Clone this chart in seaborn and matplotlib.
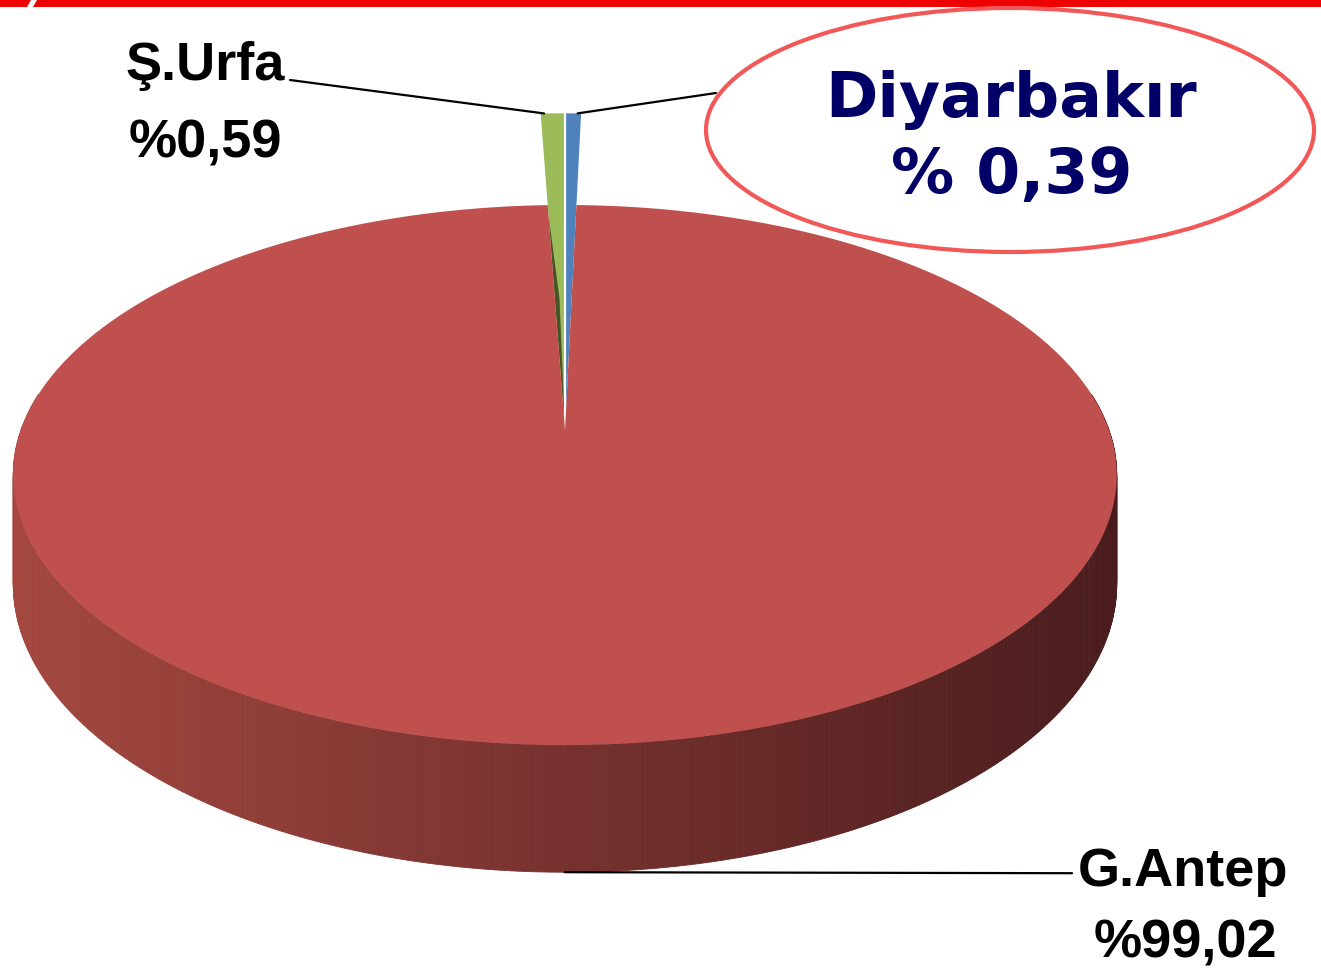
import numpy as np
import matplotlib
matplotlib.use("Agg")
import matplotlib.pyplot as plt
from matplotlib.patches import Polygon, Ellipse
from matplotlib.colors import to_rgb
import seaborn as sns

# Share of production by province (%)
cities = ["Diyarbakır", "G.Antep", "Ş.Urfa"]
shares = [0.39, 99.02, 0.59]
slice_colors = sns.color_palette(["#4F81BD", "#C0504D", "#9BBB59"])
callout_city = "Diyarbakır"

sns.set_theme(style="white")
plt.rcParams["font.family"] = ["Liberation Sans", "DejaVu Sans"]

W, H = 1321, 973
fig = plt.figure(figsize=(W / 100, H / 100), dpi=100)
ax = fig.add_axes([0, 0, 1, 1])
ax.set_xlim(0, W)
ax.set_ylim(H, 0)
ax.axis("off")

# perspective view of a flat cylinder (pixel space)
CX, CY = 565, 430          # projected pie centre
A, B, K = 544, 262.5, 1 / 6  # horizontal / vertical scale, perspective factor
DEPTH = 106                # thickness of the pie
SMALL_R = 1.51             # radius factor of the pulled-out thin slices


def proj(theta_deg, r=1.0):
    t = np.radians(theta_deg)
    X, Y = r * np.cos(t), r * np.sin(t)
    s = 1 + K * Y
    return CX + A * X / s, CY - B * Y / s


def thickness(theta_deg):
    return DEPTH / (1 + K * np.sin(np.radians(theta_deg)))


# slice angles: start at 12 o'clock, run clockwise
bounds = 90 - 3.6 * np.concatenate([[0], np.cumsum(shares)])
wedges = {c: (bounds[i], bounds[i + 1]) for i, c in enumerate(cities)}

# --- top red bar
bar_col = "#EE0000"
ax.add_patch(Polygon([(0, 0), (31, 0), (27, 7), (0, 7)], closed=True, color=bar_col, lw=0))
ax.add_patch(Polygon([(37, 0), (W, 0), (W, 7), (33, 7)], closed=True, color=bar_col, lw=0))

# --- thin slices (drawn first, the big slice sits over them)
big = "G.Antep"
for c, col in zip(cities, slice_colors):
    if c == big:
        continue
    a0, a1 = wedges[c]
    angs = np.linspace(a0, a1, 10)
    pts = [(CX, CY)] + [proj(a, SMALL_R) for a in angs]
    ax.add_patch(Polygon(pts, closed=True, facecolor=col, edgecolor="none", zorder=3))
    if c == "Ş.Urfa":
        dark = tuple(np.array(to_rgb(col)) * 0.45)
        left = max(a0, a1)
        span = abs(a1 - a0)
        tri = [(CX, CY), proj(left, 0.95), proj(left - 0.45 * span, 0.55)]
        ax.add_patch(Polygon(tri, closed=True, facecolor=dark, edgecolor="none", zorder=3.5))

# white seam between the two thin slices
ax.plot(*zip((CX, CY), proj(bounds[0], SMALL_R)), color="white", lw=1.6, zorder=3.6,
        solid_capstyle="butt")

# --- big slice: side wall with left-to-right shading, then top face
a0, a1 = wedges[big]
left_col = np.array(to_rgb("#A3473F"))
right_col = np.array(to_rgb("#4A1C1D"))
side_angs = np.linspace(-188, 8, 400)
for t0, t1 in zip(side_angs[:-1], side_angs[1:]):
    p0, p1 = proj(t0), proj(t1)
    q0 = (p0[0], p0[1] + thickness(t0))
    q1 = (p1[0], p1[1] + thickness(t1))
    f = np.clip((0.5 * (p0[0] + p1[0]) - (CX - A)) / (2 * A), 0, 1)
    col = left_col * (1 - f) + right_col * f
    ax.add_patch(Polygon([p0, p1, q1, q0], closed=True, facecolor=col, edgecolor=col,
                         lw=0.6, zorder=4))

top_angs = np.linspace(a0, a1, 720)
top_pts = [(CX, CY)] + [proj(a) for a in top_angs]
ax.add_patch(Polygon(top_pts, closed=True, facecolor=slice_colors[1], edgecolor="none", zorder=5))


def pct(v, space=""):
    return "%" + space + f"{v:.2f}".replace(".", ",")


val = dict(zip(cities, shares))
label_font = dict(family=["Liberation Sans", "DejaVu Sans"], fontweight="bold",
                  fontsize=39, color="black", ha="center", va="baseline")

# --- Ş.Urfa label and leader
ua0, ua1 = wedges["Ş.Urfa"]
urfa_pt = proj(max(ua0, ua1) - 0.3, SMALL_R)
ax.plot([290, urfa_pt[0]], [80, urfa_pt[1]], color="black", lw=1.6, zorder=6)
ax.text(205, 80, "Ş.Urfa", **label_font, zorder=7)
ax.text(205, 157, pct(val["Ş.Urfa"]), **label_font, zorder=7)

# --- G.Antep label and leader from the front bottom edge
front = proj(-90)
front = (front[0], front[1] + thickness(-90))
ax.plot([front[0], 1072], [front[1], front[1] + 1], color="black", lw=1.6, zorder=6)
ax.text(1183, 886, big, **label_font, zorder=7)
ax.text(1185, 957, pct(val[big]), **label_font, zorder=7)

# --- callout for the smallest share
da0, da1 = wedges[callout_city]
diy_pt = proj(min(da0, da1) + 0.3, SMALL_R)
ax.plot([diy_pt[0], 716], [diy_pt[1], 93], color="black", lw=1.6, zorder=6)
ax.add_patch(Ellipse((1010, 130), 608, 244, facecolor="white", edgecolor="#F35858",
                     lw=3.0, zorder=8))
callout_font = dict(family=["DejaVu Sans"], fontweight="bold", fontsize=45.5,
                    color="#000066", ha="center", va="baseline", zorder=9)
ax.text(1011, 117, callout_city, **callout_font)
ax.text(1012, 193, pct(val[callout_city], space=" "), **callout_font)

fig.savefig("out.png", dpi=100, facecolor="white")
